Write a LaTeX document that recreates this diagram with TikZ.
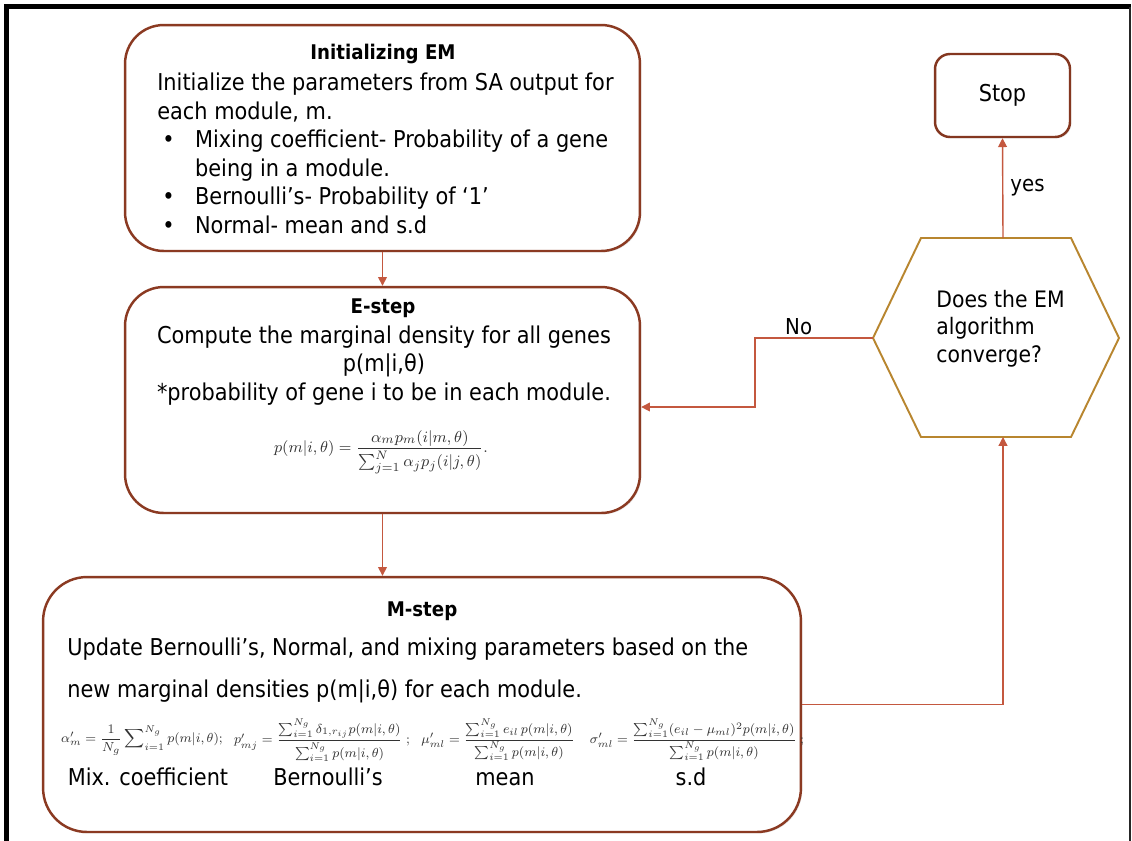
\documentclass[tikz,border=0pt]{standalone}
\usepackage{amsmath}
\usepackage{fontspec}
\setmainfont{DejaVu Sans Condensed}
\usetikzlibrary{arrows.meta,shadows}
\definecolor{boxline}{HTML}{8B3A22}
\definecolor{link}{HTML}{C4583F}
\definecolor{hexline}{HTML}{B8862F}
\definecolor{formula}{HTML}{333333}
\newcommand\itm{\hspace*{2.8pt}\makebox[18.7pt][l]{•}}
\newcommand\cont{\hspace*{21.5pt}}
\begin{document}
\begin{tikzpicture}[x=0.02cm,y=-0.02cm,
  font=\fontsize{13.2}{16.2}\selectfont,
  stepbox/.style={draw=boxline, line width=1.4pt, fill=white, inner sep=0pt,
    drop shadow={opacity=0.18, shadow xshift=0.8pt, shadow yshift=-0.8pt}},
  flow/.style={draw=link, line width=0.8pt, -{Triangle[length=5pt,width=5pt]}},
  head/.style={font=\fontsize{11.5}{16.2}\selectfont\bfseries, anchor=base, inner sep=0pt},
  body/.style={anchor=base west, align=left, inner sep=0pt},
  eq/.style={text=formula, inner sep=0pt, font=\fontsize{8}{9}\selectfont,
    scale=0.93, transform shape},
  lab/.style={font=\fontsize{12.5}{15}\selectfont}
]
\useasboundingbox (0,0) rectangle (1132,840);

% page frame
\draw[line width=2.8pt, line cap=rect] (6.5,842) -- (6.5,6.5) -- (1129,6.5);
\draw[line width=1.2pt, color=black!85] (1130,6.5) -- (1130,842);

% process boxes
\node[stepbox, rounded corners=22pt, minimum width=10.3cm, minimum height=4.52cm]
  (init) at (382.5,138) {};
\node[stepbox, rounded corners=22pt, minimum width=10.3cm, minimum height=4.52cm]
  (estep) at (382.5,400) {};
\node[stepbox, rounded corners=25pt, minimum width=15.16cm, minimum height=5.1cm]
  (mstep) at (422,704.5) {};
\node[stepbox, draw=boxline!95!black, rounded corners=8.5pt, minimum width=2.7cm, minimum height=1.66cm]
  (stop) at (1002.5,95.5) {Stop};

% decision hexagon
\coordinate (hexL) at (873,338);
\coordinate (hexTL) at (921,238);
\coordinate (hexTR) at (1071,238);
\coordinate (hexR) at (1119,338);
\coordinate (hexBR) at (1071,437);
\coordinate (hexBL) at (921,437);
\coordinate (hexT) at (1003,238);
\coordinate (hexB) at (1003,437);
\draw[hexline, line width=1.1pt, line join=miter]
  (hexL) -- (hexTL) -- (hexTR) -- (hexR) -- (hexBR) -- (hexBL) -- cycle;
\node[body, font=\fontsize{12.9}{15.6}\selectfont] (conv) at (936,362)
  {Does the EM\\algorithm\\converge?};

% Initializing EM (anchor is the baseline of the last line)
\node[head] (initT) at (383,59) {Initializing EM};
\node[body] (initB) at (157,233) {Initialize the parameters from SA output for\\
  each module, m.\\
  \itm Mixing coefficient- Probability of a gene\\
  \cont being in a module.\\
  \itm Bernoulli’s- Probability of ‘1’\\
  \itm Normal- mean and s.d};

% E-step
\node[head] (eT) at (383,313) {E-step};
\node[anchor=base, align=center, inner sep=0pt] (eB) at (384,400)
  {Compute the marginal density for all genes\\
   p(m|i,θ)\\{*}probability of gene i to be in each module.};
\node[text=formula, inner sep=0pt, font=\fontsize{9.5}{11}\selectfont] (eEq) at (381,452)
  {$p(m|i,\theta)=\dfrac{\alpha_m p_m(i|m,\theta)}{\sum_{j=1}^{N}\alpha_j p_j(i|j,\theta)}.$};

% M-step
\node[head] (mT) at (422,616) {M-step};
\node[body, font=\fontsize{13.2}{23.8}\selectfont] (mB) at (67,697)
  {Update Bernoulli’s, Normal, and mixing parameters based on the\\
   new marginal densities p(m|i,θ) for each module.};
\node[eq] (eqA) at (142,740)
  {$\alpha'_m=\dfrac{1}{N_g}\displaystyle\sum\nolimits_{i=1}^{N_g}p(m|i,\theta);$};
\node[eq] (eqP) at (322,740)
  {$p'_{mj}=\dfrac{\sum_{i=1}^{N_g}\delta_{1,r_{ij}}p(m|i,\theta)}{\sum_{i=1}^{N_g}p(m|i,\theta)}\ ;$};
\node[eq] (eqM) at (498,740)
  {$\mu'_{ml}=\dfrac{\sum_{i=1}^{N_g}e_{il}\,p(m|i,\theta)}{\sum_{i=1}^{N_g}p(m|i,\theta)}$};
\node[eq] (eqS) at (697,740)
  {$\sigma'_{ml}=\dfrac{\sum_{i=1}^{N_g}(e_{il}-\mu_{ml})^2p(m|i,\theta)}{\sum_{i=1}^{N_g}p(m|i,\theta)}\ ;$};
\node[anchor=base, inner sep=0pt] (lA) at (148,785) {Mix. coefficient};
\node[anchor=base, inner sep=0pt] (lP) at (328,785) {Bernoulli’s};
\node[anchor=base, inner sep=0pt] (lM) at (505,785) {mean};
\node[anchor=base, inner sep=0pt] (lS) at (691,785) {s.d};

% connectors
\coordinate (noLow) at (755,407);
\draw[flow] (init.south) -- (estep.north);
\draw[flow] (estep.south) -- (estep.south |- mstep.north);
\draw[flow] (mstep.east) -| (hexB);
\draw[flow] (hexT) -- node[lab, right, inner sep=4pt] {yes} (stop.south);
\draw[flow] (hexL) -| node[lab, pos=0.315, above, inner sep=1.5pt] {No} (noLow)
  -- (estep.east |- noLow);
\end{tikzpicture}
\end{document}
